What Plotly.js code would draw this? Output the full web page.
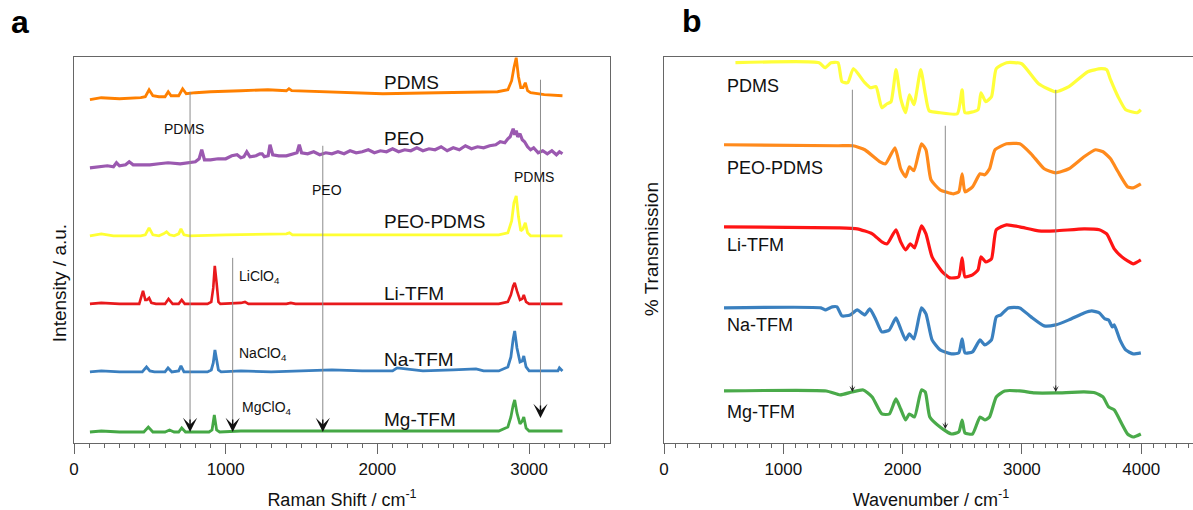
<!DOCTYPE html>
<html>
<head>
<meta charset="utf-8">
<script src="https://cdn.plot.ly/plotly-3.0.1.min.js"></script>
<style>
html,body{margin:0;padding:0;background:#fff;overflow:hidden;}
#plot{width:1200px;height:510px;}
</style>
</head>
<body>
<div id="plot"></div>
<script>
// ---------- Panel a : Raman spectra (offset, a.u.) ----------
const ramanPDMS_x = [105,180,300,440,470,495,520,560,600,621,
  640,690,716,740,800,900,1100,1278,1400,1417,
  1435,1700,2036,2400,2792,2860,2885,2900,2915,2930,
  2945,2960,2975,2990,3010,3100,3220];
const ramanPDMS_y = [343,345,344,345,346,353,347,346,346,351,
  347,347,354,349,350,351,352,353,352,354,
  352,351,349,350,351,353,362,375,385,366,
  355,355,360,352,350,348,347];

const ramanPEO_x = [105,160,220,260,280,300,340,364,390,450,
  500,560,620,700,760,800,825,842,860,900,
  950,1000,1040,1075,1100,1120,1139,1160,1200,1225,
  1240,1255,1280,1292,1310,1350,1400,1440,1470,1485,
  1500,1540,1580,1620,1660,1700,1740,1780,1820,1860,
  1900,1940,1980,2020,2060,2100,2140,2180,2220,2260,
  2300,2340,2380,2420,2460,2500,2540,2580,2620,2660,
  2700,2740,2780,2810,2840,2860,2875,2885,2895,2905,
  2915,2925,2940,2955,2970,2990,3010,3030,3060,3090,
  3120,3150,3180,3200,3220];
const ramanPEO_y = [275,276,277,276,280,277,278,281,278,278,
  278,279,280,279,280,281,284,293,283,283,
  284,284,287,288,285,286,291,286,287,289,
  289,286,287,298,288,287,287,289,290,298,
  290,289,291,288,290,289,291,289,292,290,
  291,293,290,292,291,294,291,293,292,295,
  292,294,293,296,292,295,293,297,294,296,
  295,297,298,301,300,304,306,310,314,308,
  312,306,309,303,301,296,293,295,290,292,
  289,292,288,291,289];

const ramanPEOPDMS_x = [105,180,260,440,470,495,520,560,590,610,
  630,660,690,705,725,760,1000,1400,1420,1440,
  2000,2800,2860,2885,2900,2915,2930,2945,2960,2975,
  2990,3010,3220];
const ramanPEOPDMS_y = [207,209,207,207,208,215,208,207,209,211,
  208,207,209,214,208,207,208,209,210,208,
  208,208,210,222,240,247,226,212,214,220,
  210,207,207];

const ramanLi_x = [105,180,300,430,455,470,480,495,510,540,
  600,623,650,690,710,730,880,905,918,928,
  940,952,965,1100,1127,1150,1400,1429,1460,2800,
  2860,2880,2895,2905,2920,2940,2955,2965,2980,3000,
  3220];
const ramanLi_y = [139,140,139,139,152,143,143,145,140,139,
  139,144,139,139,143,139,139,141,155,177,
  160,141,139,140,141,139,139,140,139,139,
  141,148,157,160,152,143,144,148,141,139,
  139];

const ramanNa_x = [105,180,300,450,478,500,530,600,620,645,
  690,705,725,880,905,918,929,940,952,970,
  1100,1300,1500,1700,1900,2100,2130,2300,2500,2650,
  2700,2800,2860,2880,2895,2905,2920,2940,2955,2965,
  2980,3000,3100,3190,3200,3220];
const ramanNa_y = [71,72,71,71,76,72,71,71,75,71,
  72,77,71,71,73,80,93,82,73,71,
  72,71,72,73,72,72,75,72,73,74,
  72,72,76,86,104,112,95,81,82,87,
  76,72,72,72,75,72];

const ramanMg_x = [105,180,300,460,490,520,600,630,660,690,
  710,735,890,910,925,940,960,1100,1500,2000,
  2500,2800,2860,2880,2895,2905,2920,2940,2955,2965,
  2980,3000,3100,3220];
const ramanMg_y = [11,12,11,11,16,11,11,13,11,11,
  15,11,11,13,28,13,11,12,12,12,
  12,12,16,26,38,43,30,19,22,26,
  15,12,12,12];

const ramanNames = ['PDMS','PEO','PEO-PDMS','Li-TFM','Na-TFM','Mg-TFM'];
const ramanLabelX = 2030;
const ramanLabelY = [360,304,221,149,83,23];

// guide lines (band positions) in panel a
const ramanMarkX = [765,1046,1640,3075];
const ramanMarkTop = [351,185,297,363];
const ramanMarkTip = [11,11,11,25];
const ramanBandText = ['PDMS','PEO','PDMS'];
const ramanBandX = [722,1668,3032];
const ramanBandY = [314,253,266];
const saltText = ['LiClO<sub>4</sub>','NaClO<sub>4</sub>','MgClO<sub>4</sub>'];
const saltX = [1075,1075,1094];
const saltY = [166,89,35];

// ---------- Panel b : FTIR spectra (offset % transmission) ----------
const ftirPDMS_x = [599,1300,1350,1400,1459,1492,1540,1587,1683,1730,
  1777,1826,1870,1903,1945,1984,2025,2057,2095,2152,
  2190,2222,2314,2459,2499,2523,2632,2657,2697,2745,
  2785,2871,2998,3140,3283,3394,3553,3663,3711,3743,
  3806,3870,3965,3997];
const ftirPDMS_y = [380,380,375,380,380,361,360,374,360,355,
  356,335,339,341,373,344,330,348,338,373,
  349,332,330,329,353,330,333,350,341,346,
  374,380,379,359,351,356,371,374,373,363,
  346,333,330,333];

const ftirPEOPDMS_x = [503,1459,1584,1683,1811,1857,1936,1984,2025,2057,
  2095,2158,2196,2238,2314,2427,2471,2499,2523,2586,
  2649,2689,2729,2775,2871,2982,3077,3187,3283,3394,
  3521,3617,3680,3743,3806,3886,3933,3997];
const ftirPEOPDMS_y = [298,297,297,293,281,279,295,274,266,276,
  272,299,293,263,253,249,251,269,251,256,
  269,268,274,293,299,299,289,274,270,274,
  286,293,291,284,271,256,255,259];

const ftirLi_x = [503,1459,1620,1746,1826,1871,1944,1984,2025,2065,
  2100,2158,2196,2247,2333,2397,2470,2499,2523,2586,
  2632,2657,2697,2745,2785,2871,2982,3140,3283,3521,
  3649,3711,3774,3838,3886,3933,3997];
const ftirLi_y = [216,215,214,209,201,199,213,201,193,199,
  195,217,209,186,171,165,166,185,166,168,
  173,186,181,184,213,218,216,212,212,214,
  213,209,194,186,182,179,183];

const ftirNa_x = [503,1315,1350,1410,1450,1492,1560,1620,1683,1725,
  1777,1826,1889,1944,1984,2025,2057,2095,2158,2196,
  2247,2314,2409,2471,2499,2523,2586,2649,2689,2745,
  2785,2824,2887,2982,3077,3187,3283,3394,3521,3585,
  3649,3696,3727,3758,3774,3822,3870,3933,3997];
const ftirNa_y = [135,135,133,136,136,127,128,133,128,134,
  123,111,113,125,114,103,109,104,135,129,
  103,93,89,90,104,90,91,103,98,103,
  126,128,135,135,126,117,118,123,130,132,
  130,124,123,116,118,103,93,89,90];

const ftirMg_x = [503,1360,1476,1576,1670,1745,1826,1889,1944,1984,
  2025,2057,2100,2158,2190,2228,2314,2409,2471,2499,
  2523,2586,2649,2689,2729,2785,2855,2982,3108,3283,
  3521,3617,3680,3727,3774,3838,3886,3933,3997];
const ftirMg_y = [52,52,48,51,53,46,29,29,44,34,
  23,29,26,53,51,26,16,9,11,23,
  10,9,26,23,26,46,52,52,50,50,
  51,50,46,36,33,19,9,6,9];

const ftirNames = ['PDMS','PEO-PDMS','Li-TFM','Na-TFM','Mg-TFM'];
const ftirLabelX = 510;
const ftirLabelY = [357,275,198,118,31];
const ftirMarkX = [1579,2358,3284];
const ftirMarkTop = [353,317,353];
const ftirMarkTip = [51,14,51];

const xTicks = [0,1000,2000,3000,4000];

// ---------- styling ----------
const FONT = 'Liberation Sans, Arial, Helvetica, sans-serif';
const W = 1200, H = 510;
const plotTop = 57, plotBottom = 442.7;
const ramanColors = ['#ff8000','#9b59b0','#ffff33','#e8191c','#3a7fbf','#45a845'];
const ftirColors = ['#ffff3a','#ff8a1c','#ff1414','#3a80bf','#4aaa4a'];
const ramanWidths = [2.8,3.2,2.8,2.6,2.8,2.8];

const ramanSeries = [[ramanPDMS_x,ramanPDMS_y],[ramanPEO_x,ramanPEO_y],[ramanPEOPDMS_x,ramanPEOPDMS_y],
  [ramanLi_x,ramanLi_y],[ramanNa_x,ramanNa_y],[ramanMg_x,ramanMg_y]];
const ftirSeries = [[ftirPDMS_x,ftirPDMS_y],[ftirPEOPDMS_x,ftirPEOPDMS_y],[ftirLi_x,ftirLi_y],
  [ftirNa_x,ftirNa_y],[ftirMg_x,ftirMg_y]];

const traces = [];
ramanSeries.forEach((s,i)=>traces.push({x:s[0],y:s[1],xaxis:'x',yaxis:'y',type:'scatter',mode:'lines',
  line:{color:ramanColors[i],width:ramanWidths[i]},name:ramanNames[i],showlegend:false,hoverinfo:'skip'}));
ftirSeries.forEach((s,i)=>traces.push({x:s[0],y:s[1],xaxis:'x2',yaxis:'y2',type:'scatter',mode:'lines',
  line:{color:ftirColors[i],width:3.2,shape:'spline',smoothing:0.5},name:ftirNames[i],showlegend:false,hoverinfo:'skip'}));

const shapes = [];
const annotations = [];
ramanMarkX.forEach((x,i)=>{
  shapes.push({type:'line',xref:'x',yref:'y',x0:x,x1:x,y0:ramanMarkTop[i],y1:ramanMarkTip[i]+4,
    line:{color:'#8c8c8c',width:1}});
  annotations.push({xref:'x',yref:'y',x:x,y:ramanMarkTip[i],ax:0,ay:-14,showarrow:true,text:'',
    arrowhead:3,arrowsize:1.7,arrowwidth:1.4,arrowcolor:'#111'});
});
ftirMarkX.forEach((x,i)=>{
  shapes.push({type:'line',xref:'x2',yref:'y2',x0:x,x1:x,y0:ftirMarkTop[i],y1:ftirMarkTip[i]+2,
    line:{color:'#8c8c8c',width:1}});
  annotations.push({xref:'x2',yref:'y2',x:x,y:ftirMarkTip[i],ax:0,ay:-8,showarrow:true,text:'',
    arrowhead:3,arrowsize:1,arrowwidth:1,arrowcolor:'#222'});
});
ramanNames.forEach((n,i)=>annotations.push({xref:'x',yref:'y',x:ramanLabelX,y:ramanLabelY[i],text:n,
  showarrow:false,xanchor:'left',yanchor:'middle',font:{family:FONT,size:19,color:'#111'}}));
ramanBandText.forEach((t,i)=>annotations.push({xref:'x',yref:'y',x:ramanBandX[i],y:ramanBandY[i],text:t,
  showarrow:false,xanchor:'center',yanchor:'middle',font:{family:FONT,size:14,color:'#111'}}));
saltText.forEach((t,i)=>annotations.push({xref:'x',yref:'y',x:saltX[i],y:saltY[i],text:t,
  showarrow:false,xanchor:'left',yanchor:'middle',font:{family:FONT,size:14,color:'#111'}}));
ftirNames.forEach((n,i)=>annotations.push({xref:'x2',yref:'y2',x:ftirLabelX,y:ftirLabelY[i],text:n,
  showarrow:false,xanchor:'left',yanchor:'middle',font:{family:FONT,size:18,color:'#111'}}));
const py = p => (plotBottom - p)/(plotBottom - plotTop);
annotations.push({xref:'paper',yref:'paper',x:20/W,y:py(22),text:'<b>a</b>',showarrow:false,
  xanchor:'center',yanchor:'middle',font:{family:FONT,size:32,color:'#000'}});
annotations.push({xref:'paper',yref:'paper',x:692/W,y:py(21),text:'<b>b</b>',showarrow:false,
  xanchor:'center',yanchor:'middle',font:{family:FONT,size:32,color:'#000'}});
// y-axis titles
annotations.push({xref:'paper',yref:'paper',x:59/W,y:py(283),text:'Intensity / a.u.',textangle:-90,showarrow:false,
  xanchor:'center',yanchor:'middle',font:{family:FONT,size:19,color:'#111'}});
annotations.push({xref:'paper',yref:'paper',x:651/W,y:py(249),text:'% Transmission',textangle:-90,showarrow:false,
  xanchor:'center',yanchor:'middle',font:{family:FONT,size:19,color:'#111'}});

const axLine = '#666';
function xAxis(domain, range, title, anchor){
  return {domain:domain, range:range, anchor:anchor, showline:true, linecolor:axLine, linewidth:1.2, mirror:true,
    ticks:'outside', ticklen:10, tickwidth:1, tickcolor:axLine, tickmode:'array', tickvals:xTicks,
    ticktext:xTicks.map(String),
    minor:{ticks:'outside', dtick:100, tick0:0, ticklen:4, tickwidth:1, tickcolor:axLine, showgrid:false},
    showgrid:false, zeroline:false, fixedrange:true,
    tickfont:{family:FONT,size:17,color:'#111'},
    title:{text:title, font:{family:FONT,size:18,color:'#111'}}};
}
function yAxis(anchor){
  return {domain:[0,1], range:[0, plotBottom-plotTop], anchor:anchor, showline:true, linecolor:axLine, linewidth:1.2,
    mirror:true, ticks:'', showticklabels:false, showgrid:false, zeroline:false, fixedrange:true};
}

const layout = {
  width:W, height:H, paper_bgcolor:'#fff', plot_bgcolor:'#fff',
  margin:{l:0, r:0, t:plotTop, b:H-plotBottom}, showlegend:false,
  font:{family:FONT, color:'#111'},
  xaxis: xAxis([74/W, 610/W], [0, (610-74)/0.1517], 'Raman Shift / cm<sup>-1</sup>', 'y'),
  yaxis: yAxis('x'),
  xaxis2: xAxis([664/W, 1198/W], [0, (1198-664)/0.1193], 'Wavenumber / cm<sup>-1</sup>', 'y2'),
  yaxis2: yAxis('x2'),
  shapes: shapes, annotations: annotations
};

Plotly.newPlot('plot', traces, layout, {staticPlot:true, displayModeBar:false});
</script>
</body>
</html>
